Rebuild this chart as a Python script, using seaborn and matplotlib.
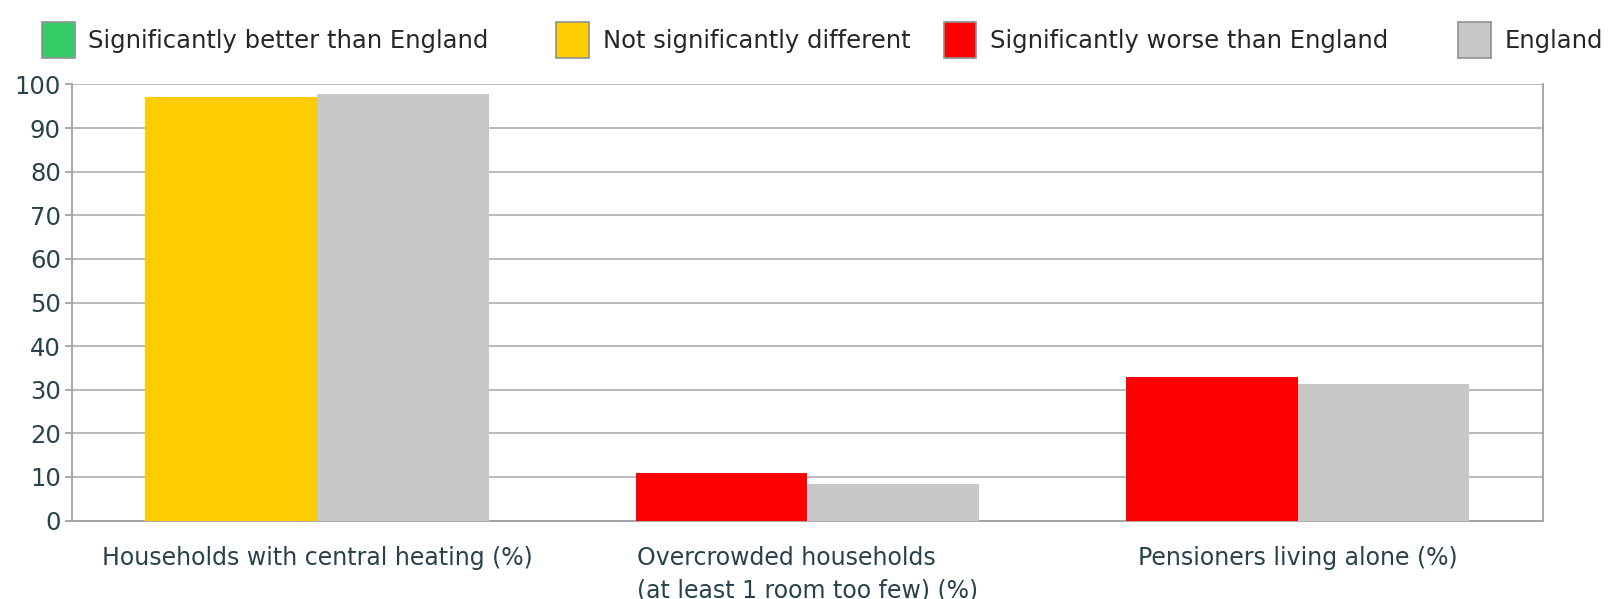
import matplotlib
matplotlib.use("Agg")
import matplotlib.pyplot as plt
import matplotlib.patches as mpatches
import seaborn as sns
import pandas as pd

categories = ["Households with central heating (%)",
              "Overcrowded households\n(at least 1 room too few) (%)",
              "Pensioners living alone (%)"]
local_values = [97.2, 10.8, 33.0]
england_values = [97.7, 8.5, 31.4]
local_status = ["Not significantly different",
                "Significantly worse than England",
                "Significantly worse than England"]
legend_labels = ["Significantly better than England", "Not significantly different",
                 "Significantly worse than England", "England"]
legend_colors = ["#33CC66", "#FFCC00", "#FF0000", "#C8C8C8"]
status_colors = dict(zip(legend_labels, legend_colors))

sns.set_theme(style="white")
plt.rcParams['font.family'] = ['DejaVu Sans']

df = pd.DataFrame({
    "category": categories * 2,
    "value": local_values + england_values,
    "series": ["Local"] * 3 + ["England"] * 3,
})

fig = plt.figure(figsize=(16.13, 5.99), dpi=100)
ax = fig.add_axes([0.0446, 0.1309, 0.912, 0.7281])
sns.barplot(data=df, x="category", y="value", hue="series",
            palette=["#FFCC00", "#C8C8C8"], width=0.7, saturation=1,
            ax=ax, legend=False, linewidth=0, zorder=3)
# recolour local bars by significance
for patch, st in zip(ax.patches[:3], local_status):
    patch.set_facecolor(status_colors[st])

ax.set_xlim(-0.5, 2.5)
ax.set_ylim(0, 100)
ax.set_yticks(range(0, 101, 10))
ax.yaxis.grid(True, color="#B4B4B4", linewidth=1.3, zorder=0)
ax.set_axisbelow(True)
ax.set_xlabel("")
ax.set_ylabel("")
for s in ["left", "bottom", "right"]:
    ax.spines[s].set_visible(True)
    ax.spines[s].set_color("#A0A0A0")
    ax.spines[s].set_linewidth(1.3)
ax.spines["top"].set_visible(False)
ax.tick_params(axis="y", which="both", left=True, length=5, color="#A0A0A0",
               labelsize=17.5, labelcolor="#27424D", pad=3)
ax.tick_params(axis="x", bottom=False, labelsize=17, labelcolor="#27424D", pad=12)
for lbl in ax.get_xticklabels():
    lbl.set_multialignment("left")
    lbl.set_linespacing(1.45)

# legend entries across the top
xs = [0.026, 0.345, 0.585, 0.904]
for x, lab, col in zip(xs, legend_labels, legend_colors):
    h = mpatches.Patch(facecolor=col, edgecolor="#909090", linewidth=1.2, label=lab)
    fig.legend(handles=[h], loc="center left", bbox_to_anchor=(x, 0.933),
               frameon=False, handlelength=1.35, handleheight=1.9,
               handletextpad=0.55, borderpad=0, borderaxespad=0,
               prop={"family": "DejaVu Sans", "size": 17.5})

fig.savefig("out.png", dpi=100, facecolor="white")
